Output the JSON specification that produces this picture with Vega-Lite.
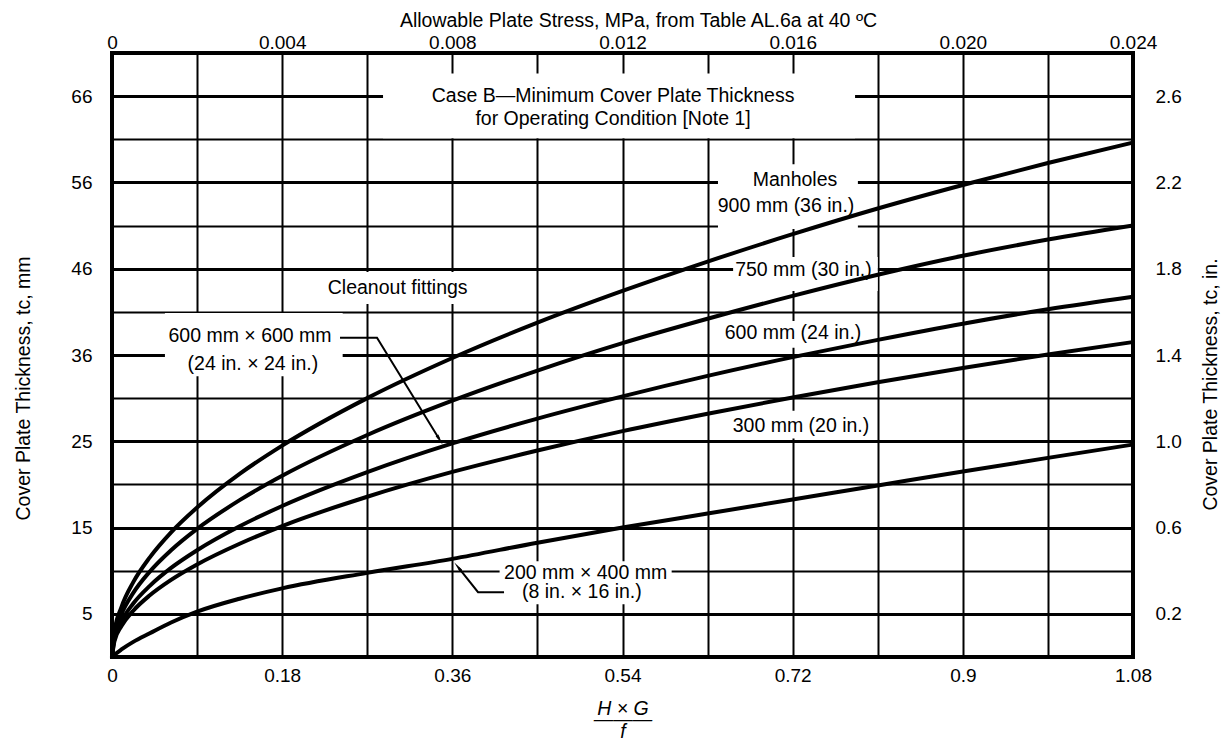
{
  "$schema": "https://vega.github.io/schema/vega-lite/v6.json",
  "width": 1021,
  "height": 604,
  "autosize": {"type": "none"},
  "padding": {"left": 112, "top": 53, "right": 94, "bottom": 85},
  "background": "white",
  "config": {
    "view": {"stroke": "black", "strokeWidth": 4},
    "font": "Liberation Sans",
    "text": {"font": "Liberation Sans"},
    "axis": {
      "labelFont": "Liberation Sans",
      "titleFont": "Liberation Sans",
      "labelColor": "black",
      "titleColor": "black",
      "labelFontSize": 19,
      "titleFontSize": 19.5,
      "titleFontWeight": "normal",
      "domain": false,
      "ticks": false,
      "tickSize": 0,
      "grid": false,
      "labelFlush": false,
      "labelOverlap": false
    }
  },
  "datasets": {
    "boxes": [
      {"name": "case", "x1": 0.2867, "x2": 0.786, "y1": 2.405, "y2": 2.705},
      {"name": "cleanout", "x1": 0.222, "x2": 0.383, "y1": 1.637, "y2": 1.785},
      {"name": "600x600", "x1": 0.056, "x2": 0.244, "y1": 1.302, "y2": 1.595},
      {"name": "manholes", "x1": 0.641, "x2": 0.789, "y1": 1.984, "y2": 2.284},
      {"name": "750", "x1": 0.657, "x2": 0.81, "y1": 1.697, "y2": 1.854},
      {"name": "600", "x1": 0.645, "x2": 0.795, "y1": 1.434, "y2": 1.558},
      {"name": "300", "x1": 0.652, "x2": 0.806, "y1": 1.013, "y2": 1.142},
      {"name": "200x400", "x1": 0.41, "x2": 0.592, "y1": 0.245, "y2": 0.444}
    ],
    "curves": [
      {"c": "900", "x": 0, "t": 0}, {"c": "900", "x": 0.0025, "t": 0.116}, {"c": "900", "x": 0.01, "t": 0.231}, {"c": "900", "x": 0.0225, "t": 0.347}, {"c": "900", "x": 0.04, "t": 0.462}, {"c": "900", "x": 0.0625, "t": 0.578}, {"c": "900", "x": 0.09, "t": 0.693}, {"c": "900", "x": 0.135, "t": 0.849}, {"c": "900", "x": 0.18, "t": 0.98}, {"c": "900", "x": 0.27, "t": 1.2}, {"c": "900", "x": 0.36, "t": 1.386}, {"c": "900", "x": 0.45, "t": 1.55}, {"c": "900", "x": 0.54, "t": 1.697}, {"c": "900", "x": 0.63, "t": 1.833}, {"c": "900", "x": 0.72, "t": 1.96}, {"c": "900", "x": 0.81, "t": 2.079}, {"c": "900", "x": 0.9, "t": 2.188}, {"c": "900", "x": 0.99, "t": 2.29}, {"c": "900", "x": 1.08, "t": 2.385},
      {"c": "750", "x": 0, "t": 0}, {"c": "750", "x": 0.0025, "t": 0.099}, {"c": "750", "x": 0.01, "t": 0.198}, {"c": "750", "x": 0.0225, "t": 0.297}, {"c": "750", "x": 0.04, "t": 0.396}, {"c": "750", "x": 0.0625, "t": 0.495}, {"c": "750", "x": 0.09, "t": 0.594}, {"c": "750", "x": 0.135, "t": 0.727}, {"c": "750", "x": 0.18, "t": 0.84}, {"c": "750", "x": 0.27, "t": 1.029}, {"c": "750", "x": 0.36, "t": 1.188}, {"c": "750", "x": 0.45, "t": 1.328}, {"c": "750", "x": 0.54, "t": 1.455}, {"c": "750", "x": 0.63, "t": 1.568}, {"c": "750", "x": 0.72, "t": 1.674}, {"c": "750", "x": 0.81, "t": 1.772}, {"c": "750", "x": 0.9, "t": 1.86}, {"c": "750", "x": 0.99, "t": 1.935}, {"c": "750", "x": 1.08, "t": 2.0},
      {"c": "600", "x": 0, "t": 0}, {"c": "600", "x": 0.0025, "t": 0.083}, {"c": "600", "x": 0.01, "t": 0.165}, {"c": "600", "x": 0.0225, "t": 0.248}, {"c": "600", "x": 0.04, "t": 0.33}, {"c": "600", "x": 0.0625, "t": 0.413}, {"c": "600", "x": 0.09, "t": 0.495}, {"c": "600", "x": 0.135, "t": 0.606}, {"c": "600", "x": 0.18, "t": 0.7}, {"c": "600", "x": 0.27, "t": 0.857}, {"c": "600", "x": 0.36, "t": 0.99}, {"c": "600", "x": 0.45, "t": 1.105}, {"c": "600", "x": 0.54, "t": 1.208}, {"c": "600", "x": 0.63, "t": 1.303}, {"c": "600", "x": 0.72, "t": 1.39}, {"c": "600", "x": 0.81, "t": 1.47}, {"c": "600", "x": 0.9, "t": 1.545}, {"c": "600", "x": 0.99, "t": 1.612}, {"c": "600", "x": 1.08, "t": 1.67},
      {"c": "500", "x": 0, "t": 0}, {"c": "500", "x": 0.0025, "t": 0.0715}, {"c": "500", "x": 0.01, "t": 0.143}, {"c": "500", "x": 0.0225, "t": 0.2145}, {"c": "500", "x": 0.04, "t": 0.286}, {"c": "500", "x": 0.0625, "t": 0.3575}, {"c": "500", "x": 0.09, "t": 0.429}, {"c": "500", "x": 0.135, "t": 0.525}, {"c": "500", "x": 0.18, "t": 0.607}, {"c": "500", "x": 0.27, "t": 0.743}, {"c": "500", "x": 0.36, "t": 0.858}, {"c": "500", "x": 0.45, "t": 0.957}, {"c": "500", "x": 0.54, "t": 1.047}, {"c": "500", "x": 0.63, "t": 1.128}, {"c": "500", "x": 0.72, "t": 1.203}, {"c": "500", "x": 0.81, "t": 1.274}, {"c": "500", "x": 0.9, "t": 1.34}, {"c": "500", "x": 0.99, "t": 1.402}, {"c": "500", "x": 1.08, "t": 1.46},
      {"c": "200", "x": 0, "t": 0}, {"c": "200", "x": 0.0025, "t": 0.01}, {"c": "200", "x": 0.01, "t": 0.035}, {"c": "200", "x": 0.0225, "t": 0.07}, {"c": "200", "x": 0.04, "t": 0.11}, {"c": "200", "x": 0.0625, "t": 0.16}, {"c": "200", "x": 0.09, "t": 0.21}, {"c": "200", "x": 0.135, "t": 0.27}, {"c": "200", "x": 0.18, "t": 0.318}, {"c": "200", "x": 0.27, "t": 0.39}, {"c": "200", "x": 0.36, "t": 0.455}, {"c": "200", "x": 0.45, "t": 0.53}, {"c": "200", "x": 0.54, "t": 0.6}, {"c": "200", "x": 0.63, "t": 0.665}, {"c": "200", "x": 0.72, "t": 0.73}, {"c": "200", "x": 0.81, "t": 0.795}, {"c": "200", "x": 0.9, "t": 0.86}, {"c": "200", "x": 0.99, "t": 0.923}, {"c": "200", "x": 1.08, "t": 0.985}
    ],
    "leaders": [
      {"id": "a", "seq": 1, "x": 0.2412, "y": 1.48},
      {"id": "a", "seq": 2, "x": 0.2803, "y": 1.48},
      {"id": "a", "seq": 3, "x": 0.3458, "y": 1.013},
      {"id": "b", "seq": 1, "x": 0.4147, "y": 0.3006},
      {"id": "b", "seq": 2, "x": 0.3872, "y": 0.3006},
      {"id": "b", "seq": 3, "x": 0.3667, "y": 0.413}
    ],
    "arrows": [
      {"id": "a", "x": 0.3458, "y": 1.013},
      {"id": "b", "x": 0.3667, "y": 0.413}
    ],
    "notes": [
      {"label": "Case B—Minimum Cover Plate Thickness", "x": 0.53, "y": 2.599},
      {"label": "for Operating Condition [Note 1]", "x": 0.53, "y": 2.493},
      {"label": "Manholes", "x": 0.7225, "y": 2.21},
      {"label": "900 mm (36 in.)", "x": 0.713, "y": 2.09},
      {"label": "750 mm (30 in.)", "x": 0.7314, "y": 1.794},
      {"label": "600 mm (24 in.)", "x": 0.7204, "y": 1.503},
      {"label": "300 mm (20 in.)", "x": 0.7288, "y": 1.073},
      {"label": "Cleanout fittings", "x": 0.3022, "y": 1.711},
      {"label": "600 mm × 600 mm", "x": 0.146, "y": 1.489},
      {"label": "(24 in. × 24 in.)", "x": 0.149, "y": 1.36},
      {"label": "200 mm × 400 mm", "x": 0.501, "y": 0.388},
      {"label": "(8 in. × 16 in.)", "x": 0.497, "y": 0.3}
    ]
  },
  "layer": [
    {
      "data": {"name": "boxes"},
      "mark": {"type": "rect", "fill": "white", "stroke": null},
      "encoding": {
        "x": {
          "field": "x1", "type": "quantitative",
          "scale": {"domain": [0, 1.08], "nice": false, "zero": false},
          "axis": {
            "orient": "bottom",
            "values": [0, 0.09, 0.18, 0.27, 0.36, 0.45, 0.54, 0.63, 0.72, 0.81, 0.9, 0.99, 1.08],
            "grid": true, "gridColor": "black", "gridWidth": 2, "gridOpacity": 1,
            "labelExpr": "round(datum.value/0.09) % 2 == 0 ? toString(datum.value) : ''",
            "labelPadding": 9,
            "title": ["H × G", "———", "f"],
            "titleFontStyle": "italic",
            "titleX": 510.5, "titleY": 57,
            "titleAlign": "center", "titleBaseline": "alphabetic",
            "titleLineHeight": 11.5, "titleAngle": 0
          }
        },
        "x2": {"field": "x2"},
        "y": {
          "field": "y1", "type": "quantitative",
          "scale": {"domain": [0, 2.8], "nice": false, "zero": false},
          "axis": {
            "orient": "left",
            "values": [0, 0.2, 0.4, 0.6, 0.8, 1.0, 1.2, 1.4, 1.6, 1.8, 2.0, 2.2, 2.4, 2.6, 2.8],
            "grid": true, "gridColor": "black", "gridOpacity": 1,
            "gridWidth": {"condition": {"test": "round(datum.value/0.2) % 2 == 1", "value": 3}, "value": 2},
            "labelExpr": "round(datum.value/0.2) % 2 == 1 ? toString(round(datum.value*25.4)) : ''",
            "labelPadding": 20,
            "title": "Cover Plate Thickness, tc, mm",
            "titleX": -89, "titleY": 335, "titleAngle": -90,
            "titleAlign": "center", "titleBaseline": "middle"
          }
        },
        "y2": {"field": "y2"}
      }
    },
    {
      "data": {"name": "curves"},
      "mark": {"type": "line", "color": "black", "strokeWidth": 4, "interpolate": "monotone", "strokeCap": "round"},
      "encoding": {
        "x": {
          "field": "x", "type": "quantitative",
          "scale": {"domain": [0, 1.08], "nice": false, "zero": false},
          "axis": {
            "orient": "top",
            "values": [0, 0.18, 0.36, 0.54, 0.72, 0.9, 1.08],
            "grid": false,
            "labelExpr": "datum.value == 0 ? '0' : format(datum.value/45, '.3f')",
            "labelPadding": 1,
            "title": "Allowable Plate Stress, MPa, from Table AL.6a at 40 ºC",
            "titleX": 526, "titleY": -33,
            "titleAlign": "center", "titleBaseline": "middle"
          }
        },
        "y": {
          "field": "t", "type": "quantitative",
          "scale": {"domain": [0, 2.8], "nice": false, "zero": false},
          "axis": {
            "orient": "right",
            "values": [0.2, 0.6, 1.0, 1.4, 1.8, 2.2, 2.6],
            "format": ".1f",
            "grid": false,
            "labelPadding": 22,
            "title": "Cover Plate Thickness, tc, in.",
            "titleX": 77, "titleY": 331, "titleAngle": -90,
            "titleAlign": "center", "titleBaseline": "middle"
          }
        },
        "detail": {"field": "c", "type": "nominal"}
      }
    },
    {
      "data": {"name": "leaders"},
      "mark": {"type": "line", "color": "black", "strokeWidth": 2},
      "encoding": {
        "x": {"field": "x", "type": "quantitative", "scale": {"domain": [0, 1.08], "nice": false, "zero": false}, "axis": null},
        "y": {"field": "y", "type": "quantitative", "scale": {"domain": [0, 2.8], "nice": false, "zero": false}, "axis": null},
        "detail": {"field": "id", "type": "nominal"},
        "order": {"field": "seq", "type": "quantitative"}
      }
    },
    {
      "data": {"name": "arrows"},
      "transform": [{"filter": "datum.id == 'a'"}],
      "mark": {"type": "point", "shape": "wedge", "filled": true, "color": "black", "opacity": 1, "size": 160, "angle": 148.5},
      "encoding": {
        "x": {"field": "x", "type": "quantitative", "scale": {"domain": [0, 1.08], "nice": false, "zero": false}, "axis": null},
        "y": {"field": "y", "type": "quantitative", "scale": {"domain": [0, 2.8], "nice": false, "zero": false}, "axis": null}
      }
    },
    {
      "data": {"name": "arrows"},
      "transform": [{"filter": "datum.id == 'b'"}],
      "mark": {"type": "point", "shape": "wedge", "filled": true, "color": "black", "opacity": 1, "size": 160, "angle": -38},
      "encoding": {
        "x": {"field": "x", "type": "quantitative", "scale": {"domain": [0, 1.08], "nice": false, "zero": false}, "axis": null},
        "y": {"field": "y", "type": "quantitative", "scale": {"domain": [0, 2.8], "nice": false, "zero": false}, "axis": null}
      }
    },
    {
      "data": {"name": "notes"},
      "mark": {"type": "text", "font": "Liberation Sans", "fontSize": 19.5, "color": "black", "align": "center", "baseline": "middle"},
      "encoding": {
        "x": {"field": "x", "type": "quantitative", "scale": {"domain": [0, 1.08], "nice": false, "zero": false}, "axis": null},
        "y": {"field": "y", "type": "quantitative", "scale": {"domain": [0, 2.8], "nice": false, "zero": false}, "axis": null},
        "text": {"field": "label", "type": "nominal"}
      }
    }
  ],
  "resolve": {"axis": {"x": "independent", "y": "independent"}}
}
